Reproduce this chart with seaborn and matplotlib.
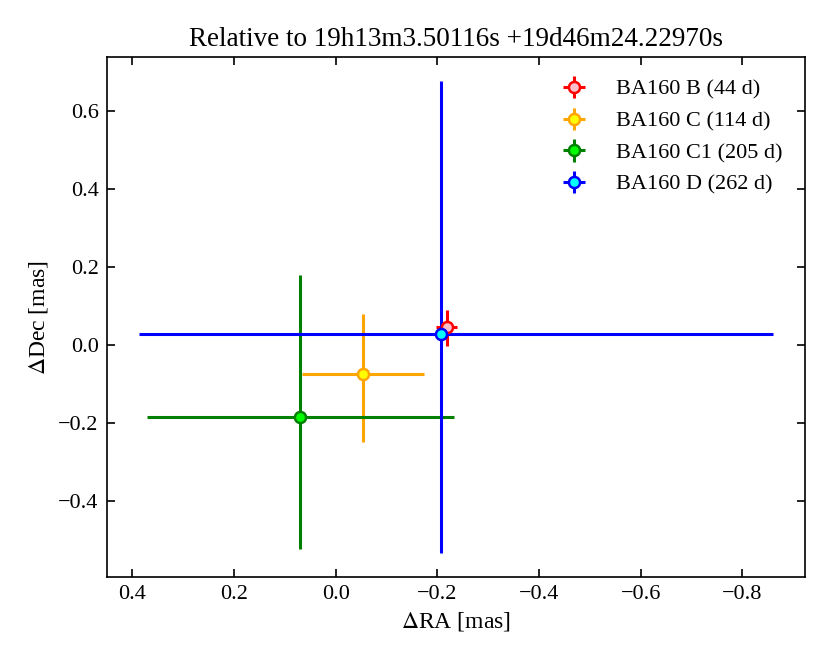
import matplotlib
matplotlib.use("Agg")
import matplotlib.pyplot as plt
import seaborn as sns

# Offsets relative to the reference position (mas)
labels = ["BA160 B (44 d)", "BA160 C (114 d)", "BA160 C1 (205 d)", "BA160 D (262 d)"]
d_ra = [-0.2185, -0.054, 0.070, -0.207]
d_dec = [0.0445, -0.0746, -0.186, 0.028]
ra_err_lo = [0.021, 0.120, 0.3035, 0.654]
ra_err_hi = [0.021, 0.121, 0.301, 0.594]
dec_err_lo = [0.047, 0.176, 0.339, 0.563]
dec_err_hi = [0.0455, 0.154, 0.366, 0.649]
line_colors = ["red", "orange", "green", "blue"]
face_colors = ["pink", "yellow", "lime", "cyan"]

sns.set_style("ticks")
plt.rcParams["font.family"] = ["Liberation Serif", "DejaVu Serif"]
plt.rcParams["mathtext.fontset"] = "stix"
plt.rcParams["xtick.direction"] = "in"
plt.rcParams["ytick.direction"] = "in"
plt.rcParams["xtick.top"] = True
plt.rcParams["ytick.right"] = True
for key in ["text.color", "axes.labelcolor", "xtick.color", "ytick.color", "axes.edgecolor"]:
    plt.rcParams[key] = "black"

fig, ax = plt.subplots(figsize=(8.3, 6.64), dpi=100)
fig.subplots_adjust(left=0.129, right=0.970, top=0.914, bottom=0.131)

for i in range(len(labels)):
    ax.errorbar(
        d_ra[i], d_dec[i],
        xerr=[[ra_err_lo[i]], [ra_err_hi[i]]],
        yerr=[[dec_err_lo[i]], [dec_err_hi[i]]],
        fmt="o", color=line_colors[i], mfc=face_colors[i], mec=line_colors[i],
        ms=8, mew=1.8, elinewidth=2.2, capsize=0, label=labels[i],
    )

ax.invert_xaxis()
ax.set_xlabel(r"$\Delta$RA [mas]", fontsize=17)
ax.set_ylabel(r"$\Delta$Dec [mas]", fontsize=17, labelpad=6)
ax.set_title("Relative to 19h13m3.50116s +19d46m24.22970s", fontsize=19.5, pad=8)
ax.tick_params(axis="both", which="major", labelsize=16, length=6, width=1.2, pad=6)
for spine in ax.spines.values():
    spine.set_linewidth(1.2)

ax.legend(loc="upper right", frameon=False, fontsize=16, handletextpad=0.9,
          labelspacing=0.5, borderaxespad=0.6)

fig.savefig("out.png", dpi=100)
